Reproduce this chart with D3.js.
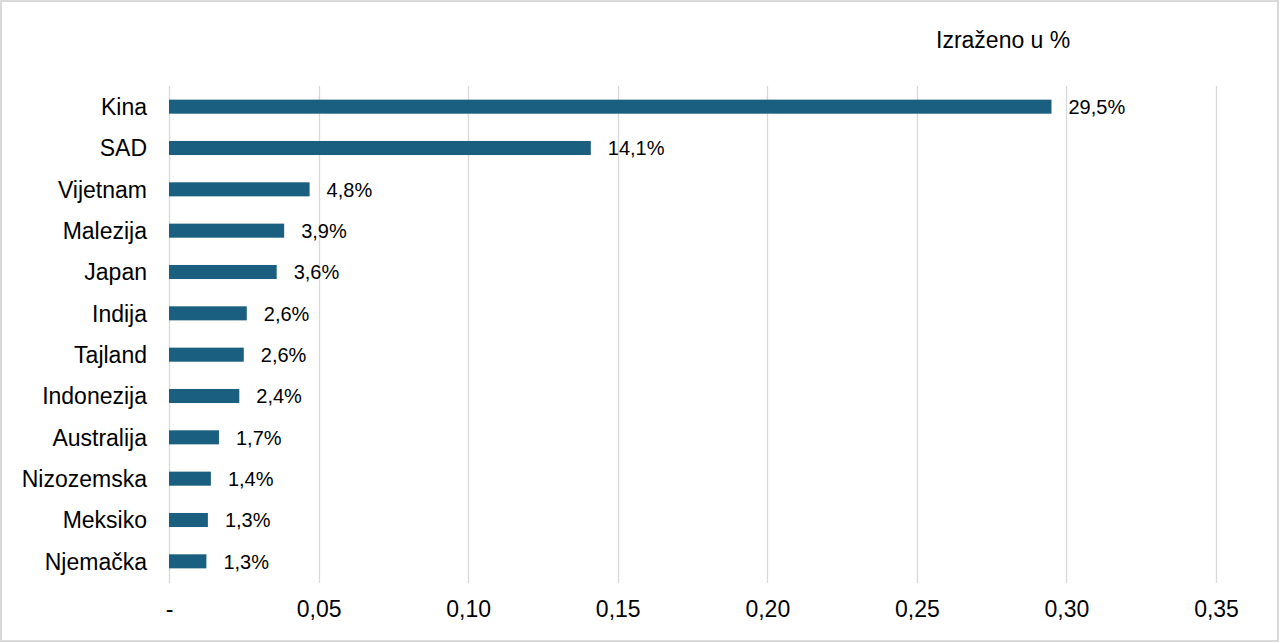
<!DOCTYPE html>
<html><head><meta charset="utf-8">
<script src="https://cdn.jsdelivr.net/npm/d3@7"></script>
<style>
html,body{margin:0;padding:0;background:#fff;}
svg text{font-family:"Liberation Sans",Arial,sans-serif;fill:#000;}
</style></head>
<body><svg id="c" width="1280" height="643"></svg>
<script>
const categories = ["Kina","SAD","Vijetnam","Malezija","Japan","Indija","Tajland","Indonezija","Australija","Nizozemska","Meksiko","Njemačka"];
const values = [0.295,0.141,0.047,0.0385,0.036,0.026,0.025,0.0235,0.0167,0.014,0.013,0.0125];
const valueLabels = ["29,5%","14,1%","4,8%","3,9%","3,6%","2,6%","2,6%","2,4%","1,7%","1,4%","1,3%","1,3%"];
const xTicks = [0,0.05,0.10,0.15,0.20,0.25,0.30,0.35];
const xTickLabels = ["-","0,05","0,10","0,15","0,20","0,25","0,30","0,35"];
const unitNote = "Izraženo u %";

const svg = d3.select("#c");
svg.append("rect").attr("x",1).attr("y",1).attr("width",1277).attr("height",640)
  .attr("fill","#fff").attr("stroke","#d9d9d9").attr("stroke-width",2);

const x = d3.scaleLinear().domain([0,0.35]).range([169,1216]);
const y = d3.scaleBand().domain(categories).range([86,582]).paddingInner(0.66).paddingOuter(0.33);

// gridlines
svg.append("g").selectAll("line").data(xTicks).join("line")
  .attr("x1",d=>Math.round(x(d))+0.5).attr("x2",d=>Math.round(x(d))+0.5)
  .attr("y1",86).attr("y2",583)
  .attr("stroke","#d9d9d9").attr("stroke-width",1.3);

// x axis tick labels
const xa = svg.append("g").attr("transform","translate(0,583)")
  .call(d3.axisBottom(x).tickValues(xTicks).tickSize(0).tickPadding(0)
    .tickFormat((d,i)=>xTickLabels[i]));
xa.select(".domain").remove();
xa.selectAll("text").attr("font-size",23).attr("dy",null).attr("y",34)
  .attr("font-family","Liberation Sans, Arial, sans-serif").attr("fill","#000");

// y axis labels
const ya = svg.append("g").attr("transform","translate(147,0)")
  .call(d3.axisLeft(y).tickSize(0).tickPadding(0));
ya.select(".domain").remove();
ya.selectAll("text").attr("font-size",23).attr("dy","0.36em")
  .attr("font-family","Liberation Sans, Arial, sans-serif").attr("fill","#000");

// bars
svg.append("g").selectAll("rect").data(values).join("rect")
  .attr("x",x(0)).attr("y",(d,i)=>y(categories[i]))
  .attr("width",d=>x(d)-x(0)).attr("height",y.bandwidth())
  .attr("fill","#1a5f80");

// value labels
svg.append("g").selectAll("text").data(values).join("text")
  .attr("x",d=>x(d)+17).attr("y",(d,i)=>y(categories[i])+y.bandwidth()/2)
  .attr("dy","0.36em").attr("font-size",20)
  .text((d,i)=>valueLabels[i]);

svg.append("text").attr("x",936).attr("y",48).attr("font-size",23).text(unitNote);
</script></body></html>
